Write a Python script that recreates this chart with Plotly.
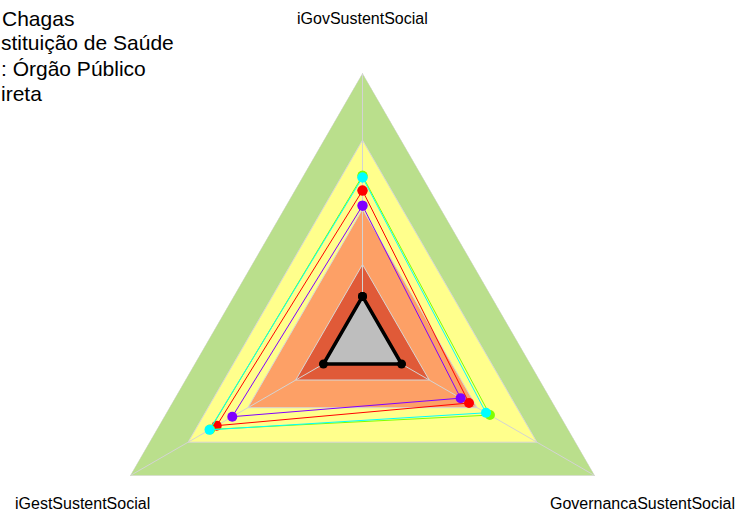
import plotly.graph_objects as go

# Radar axes (clockwise from the top)
categories = ["iGovSustentSocial", "GovernancaSustentSocial", "iGestSustentSocial"]

# Background performance bands (outer to inner)
band_levels = [1.0, 0.75, 0.493, 0.287]
band_colors = ["#BADF8C", "#FFFF8C", "#FDA066", "#E05A38"]

# Reference (minimum) profile, drawn in black over a gray fill
base_values = [0.168, 0.168, 0.168]

# Comparison profiles
series_names = ["Série 1", "Série 2", "Série 3", "Série 4"]
series_colors = ["#FF0000", "#80FF00", "#00FFFF", "#8000FF"]
series_values = [
    [0.562, 0.458, 0.627],
    [0.617, 0.548, 0.655],
    [0.611, 0.531, 0.658],
    [0.506, 0.422, 0.560],
]

# Title lines shown in the upper-left corner
title_lines = ["Chagas", "stituição de Saúde", ": Órgão Público", "ireta"]

closed_theta = categories + [categories[0]]

fig = go.Figure()

# Concentric bands
for lvl, col in zip(band_levels, band_colors):
    fig.add_trace(go.Scatterpolar(
        r=[lvl] * len(closed_theta), theta=closed_theta,
        mode="lines", fill="toself", fillcolor=col,
        line=dict(color="#D6D6D6", width=1),
        hoverinfo="skip", showlegend=False,
    ))

# Spokes from the centre to each axis tip
spoke_r, spoke_t = [], []
for c in categories:
    spoke_r += [0, 1, None]
    spoke_t += [c, c, None]
fig.add_trace(go.Scatterpolar(
    r=spoke_r, theta=spoke_t, mode="lines",
    line=dict(color="#D3D3D3", width=1),
    hoverinfo="skip", showlegend=False,
))

# Base profile
fig.add_trace(go.Scatterpolar(
    r=base_values + [base_values[0]], theta=closed_theta,
    mode="lines+markers", fill="toself", fillcolor="#BEBEBE",
    line=dict(color="black", width=3.5),
    marker=dict(color="black", size=9),
    hoverinfo="skip", showlegend=False,
))

# Comparison profiles
for name, col, vals in zip(series_names, series_colors, series_values):
    fig.add_trace(go.Scatterpolar(
        r=vals + [vals[0]], theta=closed_theta, name=name,
        mode="lines+markers",
        line=dict(color=col, width=1),
        marker=dict(color=col, size=10),
        showlegend=False,
    ))

label_font = dict(family="Liberation Sans, Arial, sans-serif", size=16, color="black")
annotations = [
    dict(text=categories[0], x=0.5, y=1.1006, xref="paper", yref="paper",
         xanchor="center", yanchor="middle", showarrow=False, font=label_font),
    dict(text=categories[1], x=1.0205, y=0.1974, xref="paper", yref="paper",
         xanchor="center", yanchor="middle", showarrow=False, font=label_font),
    dict(text=categories[2], x=-0.0215, y=0.1974, xref="paper", yref="paper",
         xanchor="center", yanchor="middle", showarrow=False, font=label_font),
]
title_font = dict(family="Liberation Sans, Arial, sans-serif", size=21, color="black")
title_y = [1.1024, 1.0559, 1.0093, 0.9610]
title_x = [-0.1756, -0.1770, -0.1770, -0.1770]
for txt, tx, ty in zip(title_lines, title_x, title_y):
    annotations.append(dict(text=txt, x=tx, y=ty, xref="paper", yref="paper",
                            xanchor="left", yanchor="middle", showarrow=False,
                            font=title_font))

fig.update_layout(
    width=738, height=610,
    margin=dict(l=94, r=107, t=73, b=0),
    paper_bgcolor="white",
    showlegend=False,
    annotations=annotations,
    polar=dict(
        domain=dict(x=[0, 1], y=[0, 1]),
        gridshape="linear",
        bgcolor="rgba(0,0,0,0)",
        radialaxis=dict(range=[0, 1], visible=False, showgrid=False),
        angularaxis=dict(
            type="category", categoryarray=categories,
            direction="clockwise", rotation=90,
            showgrid=False, showline=False, showticklabels=False, ticks="",
        ),
    ),
)

fig.write_html("out.html")
